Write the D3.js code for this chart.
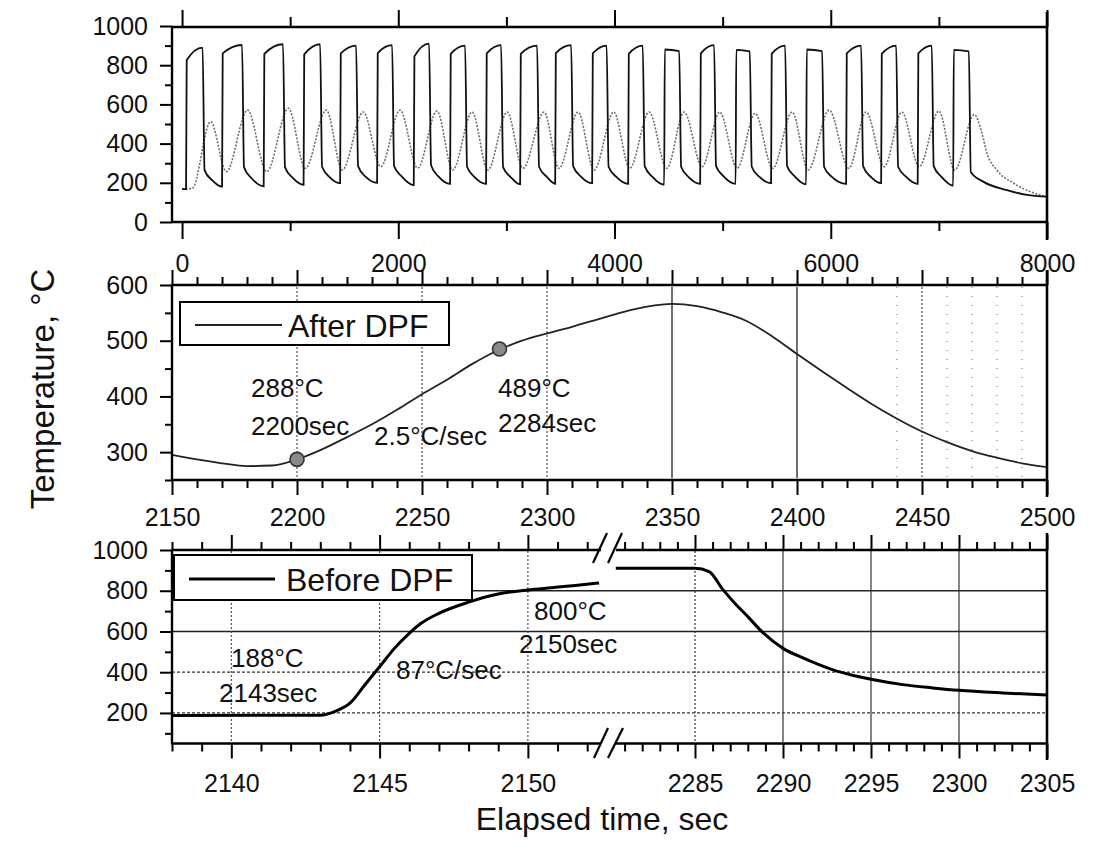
<!DOCTYPE html>
<html><head><meta charset="utf-8">
<script src="https://cdn.jsdelivr.net/npm/d3@7"></script>
<style>
body{margin:0;background:#fff}
svg text{font-family:"Liberation Sans",Arial,sans-serif;fill:#111}
</style>
</head><body>
<svg id="c" width="1105" height="844"></svg>
<script>
// ---------------- DATA ----------------
// Top panel (full test, 0-8000 s)
const topXTicks = [0, 2000, 4000, 6000, 8000];
const topXMinor = [1000, 3000, 5000, 7000];
const topYTicks = [0, 200, 400, 600, 800, 1000];
const topYMinor = [100, 300, 500, 700, 900];
// Before DPF cycles (solid black)
const cycleRise = [37,370,755,1124,1462,1804,2143,2479,2812,3127,3451,3793,4126,4459,4792,5120,5448,5772,6142,6466,6804,7132];
const cycleFall = [190,555,934,1277,1610,1943,2285,2618,2951,3284,3599,3927,4261,4598,4921,5251,5578,5920,6281,6605,6934,7277];
const beforeLow      = [168,180,182,190,198,200,188,195,195,192,195,198,195,190,195,195,198,192,195,198,195,185];
const beforeTopStart = [826,860,858,855,860,862,845,858,860,858,862,860,858,880,860,878,858,880,860,858,860,878];
const beforeTopEnd   = [890,903,907,907,900,902,910,900,902,900,902,900,900,872,902,870,900,872,900,900,900,870];
const beforeDrop     = [265,280,280,282,285,285,290,282,280,282,285,282,285,282,285,282,285,282,285,282,285,255];
const beforeDecay    = [212,222,225,228,230,232,230,228,228,230,232,230,230,228,232,230,232,230,230,232,230,206];
const beforeTailT = [7410, 7630, 7815, 8000];
const beforeTailV = [206, 163, 138, 129];
// After DPF (grey dotted) turning points
const afterT = [0,95,264,410,605,783,984,1140,1335,1481,1676,1838,2017,2179,2358,2503,2683,2828,3007,3153,3348,3486,3663,3811,3993,4140,4320,4483,4644,4810,4973,5134,5300,5463,5643,5791,5985,6167,6327,6494,6657,6818,7000,7147,7327,7398,7444,7536,7687,7845,8000];
const afterV = [168,172,512,257,571,257,580,274,571,265,561,282,571,275,566,265,561,265,561,274,561,274,561,265,561,274,561,274,561,282,561,274,554,274,561,265,571,274,561,282,561,282,566,265,548,454,352,265,199,155,129];

// Middle panel (After DPF zoom)
const midXTicks = [2150,2200,2250,2300,2350,2400,2450,2500];
const midYTicks = [300,400,500,600];
const midYMinor = [250,350,450,550];
const midT = [2150,2160,2170,2180,2190,2200,2210,2220,2230,2240,2250,2260,2270,2280,2290,2300,2310,2320,2330,2340,2350,2360,2370,2380,2390,2400,2410,2420,2430,2440,2450,2460,2470,2480,2490,2500];
const midV = [295,287,280,275,276,287,305,327,350,376,404,430,458,482,500,513,525,538,551,561,566,562,551,535,508,476,445,415,386,360,337,318,302,290,280,273];
const midMarkT = [2200, 2281];
const midMarkV = [287, 485];
const midGridSolid = [2350, 2400];
const midGridDash = [2200, 2250, 2300, 2450];
const midGridDot = [2440, 2460, 2470, 2480, 2490];

// Bottom panel (Before DPF zoom, broken axis)
const botYTicks = [200,400,600,800,1000];
const botYMinor = [100,300,500,700,900];
const botLeftTicks = [2140, 2145, 2150];
const botRightTicks = [2285, 2290, 2295, 2300, 2305];
const botLeftT = [2138,2143,2143.5,2144,2144.5,2145,2145.5,2146,2146.4,2147,2148,2149,2150,2150.8,2151.6,2152.4];
const botLeftV = [188,189,208,248,337,427,517,591,640,689,744,784,804,815,826,838];
const botRightT = [2280.5,2285,2285.8,2286.6,2287.3,2288,2288.8,2290,2291.2,2292.8,2294,2295,2296.8,2298.5,2300,2302.5,2305];
const botRightV = [910,910,894,804,735,673,599,517,468,413,384,365,339,323,311,298,288];
const botGridSolidY = [600, 800];
const botGridDashY = [200, 400];
const botGridLeftX = [2140, 2145, 2150];
const botGridRightX = [2285, 2290, 2295, 2300];

// ---------------- DRAW ----------------
const svg = d3.select("#c");
const FONT = '"Liberation Sans", Arial, sans-serif';
const L = 172, R = 1047;
const fmt = d3.format("d");

const xTop = d3.scaleLinear().domain([-93, 8000]).range([L, R]);
const yTop = d3.scaleLinear().domain([0, 1000]).range([222, 26]);
const xMid = d3.scaleLinear().domain([2150, 2500]).range([L, R]);
const yMid = d3.scaleLinear().domain([250, 600]).range([480, 285]);
const xBotL = d3.scaleLinear().domain([2138, 2152.6]).range([L, 605]);
const xBotR = d3.scaleLinear().domain([2280, 2305]).range([607, R]);
const yBot = d3.scaleLinear().domain([50, 1000]).range([743.5, 550]);

function styleAxis(g, fs) {
  g.attr("font-family", FONT).attr("font-size", fs || 25);
  g.select(".domain").remove();
  g.selectAll(".tick line").attr("stroke", "#000").attr("stroke-width", 2);
  g.selectAll(".tick text").attr("fill", "#111");
}
function addAxis(gen, tx, ty, labels, size, labelY) {
  gen.tickFormat(fmt);
  const g = svg.append("g").attr("transform", `translate(${tx},${ty})`).call(gen);
  styleAxis(g);
  if (!labels) g.selectAll(".tick text").remove();
  else if (labelY !== undefined) g.selectAll(".tick text").attr("y", labelY).attr("dy", 0);
  return g;
}
function frameLine(x1, y1, x2, y2, w) {
  svg.append("line").attr("x1", x1).attr("y1", y1).attr("x2", x2).attr("y2", y2)
    .attr("stroke", "#000").attr("stroke-width", w || 2.4);
}

// ===== TOP PANEL =====
addAxis(d3.axisLeft(yTop).tickValues(topYTicks).tickSize(12).tickPadding(12), L, 0, true);
addAxis(d3.axisLeft(yTop).tickValues(topYMinor).tickSize(7), L, 0, false);
addAxis(d3.axisBottom(xTop).tickValues(topXTicks).tickSize(17), 0, 222, true, 17, 50);
addAxis(d3.axisBottom(xTop).tickValues(topXMinor).tickSize(9), 0, 222, false);
addAxis(d3.axisTop(xTop).tickValues(topXTicks).tickSize(17), 0, 27, false);
addAxis(d3.axisTop(xTop).tickValues(topXMinor).tickSize(10), 0, 27, false);

// Before DPF series points built from cycle tables
const beforePts = [[0, beforeLow[0]]];
cycleRise.forEach((r, i) => {
  beforePts.push([r, beforeLow[i]]);
  beforePts.push([r + 6, beforeTopStart[i]]);
  beforePts.push([cycleFall[i], beforeTopEnd[i]]);
  beforePts.push([cycleFall[i] + 18, beforeDrop[i]]);
  if (i < cycleRise.length - 1) beforePts.push([cycleFall[i] + 90, beforeDecay[i]]);
});
beforeTailT.forEach((t, i) => beforePts.push([t, beforeTailV[i]]));

const lineTop = d3.line().x(d => xTop(d[0])).y(d => yTop(d[1])).curve(d3.curveMonotoneX);
svg.append("path").datum(afterT.map((t, i) => [t, afterV[i]]))
  .attr("d", lineTop).attr("fill", "none").attr("stroke", "#6e6e6e")
  .attr("stroke-width", 1.6).attr("stroke-dasharray", "2,1.5");
svg.append("path").datum(beforePts)
  .attr("d", lineTop).attr("fill", "none").attr("stroke", "#111").attr("stroke-width", 1.8);

frameLine(L, 27, R, 27); frameLine(L, 222, R, 222);
frameLine(L, 26, L, 223); frameLine(R, 12, R, 240, 2.6);

// ===== MIDDLE PANEL =====
midGridDot.forEach(v => svg.append("line").attr("x1", xMid(v)).attr("x2", xMid(v)).attr("y1", 287).attr("y2", 478)
  .attr("stroke", "#666").attr("stroke-width", 1).attr("stroke-dasharray", "1,8"));
midGridDash.forEach(v => svg.append("line").attr("x1", xMid(v)).attr("x2", xMid(v)).attr("y1", 287).attr("y2", 478)
  .attr("stroke", "#444").attr("stroke-width", 1.1).attr("stroke-dasharray", "2,2"));
midGridSolid.forEach(v => svg.append("line").attr("x1", xMid(v)).attr("x2", xMid(v)).attr("y1", 287).attr("y2", 478)
  .attr("stroke", "#222").attr("stroke-width", 1.3));

addAxis(d3.axisLeft(yMid).tickValues(midYTicks).tickSize(12).tickPadding(12), L, 0, true);
addAxis(d3.axisLeft(yMid).tickValues(midYMinor).tickSize(7), L, 0, false);
addAxis(d3.axisBottom(xMid).tickValues(midXTicks).tickSize(15), 0, 480, true, 15, 46);
addAxis(d3.axisBottom(xMid).tickValues(d3.range(2160, 2500, 10).filter(v => v % 50)).tickSize(8), 0, 480, false);
addAxis(d3.axisTop(xMid).tickValues(midXTicks).tickSize(15), 0, 285, false);
addAxis(d3.axisTop(xMid).tickValues(d3.range(2160, 2500, 10).filter(v => v % 50)).tickSize(8), 0, 285, false);

const lineMid = d3.line().x(d => xMid(d[0])).y(d => yMid(d[1])).curve(d3.curveMonotoneX);
svg.append("path").datum(midT.map((t, i) => [t, midV[i]]))
  .attr("d", lineMid).attr("fill", "none").attr("stroke", "#222").attr("stroke-width", 1.8);
svg.selectAll("circle.mk").data(midMarkT.map((t, i) => [t, midMarkV[i]])).enter().append("circle")
  .attr("cx", d => xMid(d[0])).attr("cy", d => yMid(d[1])).attr("r", 7)
  .attr("fill", "#8a8a8a").attr("stroke", "#333").attr("stroke-width", 1.6);

frameLine(L, 285, R, 285); frameLine(L, 480, R, 480);
frameLine(L, 284, L, 481); frameLine(R, 270, R, 497, 2.6);

svg.append("rect").attr("x", 180).attr("y", 302).attr("width", 269).attr("height", 43)
  .attr("fill", "#fff").attr("stroke", "#000").attr("stroke-width", 2);
svg.append("line").attr("x1", 195).attr("x2", 282).attr("y1", 325).attr("y2", 325)
  .attr("stroke", "#222").attr("stroke-width", 1.8);
svg.append("text").attr("x", 288).attr("y", 337).attr("font-size", 32).text("After DPF");

// ===== BOTTOM PANEL =====
botGridDashY.forEach(v => svg.append("line").attr("x1", L).attr("x2", R).attr("y1", yBot(v)).attr("y2", yBot(v))
  .attr("stroke", "#333").attr("stroke-width", 1.2).attr("stroke-dasharray", "3,2"));
botGridSolidY.forEach(v => svg.append("line").attr("x1", L).attr("x2", R).attr("y1", yBot(v)).attr("y2", yBot(v))
  .attr("stroke", "#222").attr("stroke-width", 1.4));
botGridLeftX.forEach(v => svg.append("line").attr("x1", xBotL(v)).attr("x2", xBotL(v)).attr("y1", 551).attr("y2", 742)
  .attr("stroke", "#444").attr("stroke-width", 1.1).attr("stroke-dasharray", "2,2"));
botGridRightX.forEach((v, i) => svg.append("line").attr("x1", xBotR(v)).attr("x2", xBotR(v)).attr("y1", 551).attr("y2", 742)
  .attr("stroke", "#333").attr("stroke-width", 1.2).attr("stroke-dasharray", i === 0 ? "2,2" : null));

addAxis(d3.axisLeft(yBot).tickValues(botYTicks).tickSize(12).tickPadding(12), L, 0, true);
addAxis(d3.axisLeft(yBot).tickValues(botYMinor).tickSize(7), L, 0, false);
addAxis(d3.axisBottom(xBotL).tickValues(botLeftTicks).tickSize(15), 0, 743.5, true, 15, 48.5);
addAxis(d3.axisBottom(xBotL).tickValues(d3.range(2138, 2153, 1).filter(v => v % 5)).tickSize(8), 0, 743.5, false);
addAxis(d3.axisBottom(xBotR).tickValues(botRightTicks).tickSize(15), 0, 743.5, true, 15, 48.5);
addAxis(d3.axisBottom(xBotR).tickValues(d3.range(2281, 2305, 1).filter(v => v % 5)).tickSize(8), 0, 743.5, false);
addAxis(d3.axisTop(xBotL).tickValues(botLeftTicks).tickSize(15), 0, 550, false);
addAxis(d3.axisTop(xBotL).tickValues(d3.range(2138, 2153, 1).filter(v => v % 5)).tickSize(8), 0, 550, false);
addAxis(d3.axisTop(xBotR).tickValues(botRightTicks).tickSize(15), 0, 550, false);
addAxis(d3.axisTop(xBotR).tickValues(d3.range(2281, 2305, 1).filter(v => v % 5)).tickSize(8), 0, 550, false);

const lineBL = d3.line().x(d => xBotL(d[0])).y(d => yBot(d[1])).curve(d3.curveMonotoneX);
const lineBR = d3.line().x(d => xBotR(d[0])).y(d => yBot(d[1])).curve(d3.curveMonotoneX);
svg.append("path").datum(botLeftT.map((t, i) => [t, botLeftV[i]]))
  .attr("d", lineBL).attr("fill", "none").attr("stroke", "#000").attr("stroke-width", 3);
svg.append("path").datum(botRightT.map((t, i) => [t, botRightV[i]]))
  .attr("d", lineBR).attr("fill", "none").attr("stroke", "#000").attr("stroke-width", 3);

frameLine(L, 550, 601, 550); frameLine(616, 550, R, 550);
frameLine(L, 743.5, 601, 743.5); frameLine(616, 743.5, R, 743.5);
frameLine(L, 549, L, 744.5); frameLine(R, 533, R, 760, 2.6);
[550, 743.5].forEach(y => {
  svg.append("rect").attr("x", 601).attr("y", y - 3).attr("width", 15).attr("height", 6).attr("fill", "#fff");
});
[[593, 563, 607, 533], [608, 563, 622, 533], [594, 758, 608, 728], [608, 758, 623, 728]].forEach(s =>
  frameLine(s[0], s[1], s[2], s[3], 2.2));

svg.append("rect").attr("x", 174).attr("y", 555).attr("width", 298).attr("height", 45)
  .attr("fill", "#fff").attr("stroke", "#000").attr("stroke-width", 2);
svg.append("line").attr("x1", 189).attr("x2", 275).attr("y1", 579).attr("y2", 579)
  .attr("stroke", "#000").attr("stroke-width", 3);
svg.append("text").attr("x", 286).attr("y", 591).attr("font-size", 32).text("Before DPF");

// ===== ANNOTATIONS =====
const notes = [
  ["288°C", 251, 397], ["2200sec", 251, 435], ["2.5°C/sec", 374, 445],
  ["489°C", 498, 397], ["2284sec", 498, 432],
  ["188°C", 231, 667], ["2143sec", 219, 702], ["87°C/sec", 396, 679],
  ["800°C", 534, 620], ["2150sec", 519, 653]
];
svg.selectAll("text.note").data(notes).enter().append("text").attr("class", "note")
  .attr("x", d => d[1]).attr("y", d => d[2]).attr("font-size", 26).text(d => d[0]);

svg.append("text").attr("transform", "translate(54,389) rotate(-90)").attr("text-anchor", "middle")
  .attr("font-size", 33).text("Temperature, °C");
svg.append("text").attr("x", 602).attr("y", 830).attr("text-anchor", "middle")
  .attr("font-size", 32).text("Elapsed time, sec");
</script>
</body></html>
